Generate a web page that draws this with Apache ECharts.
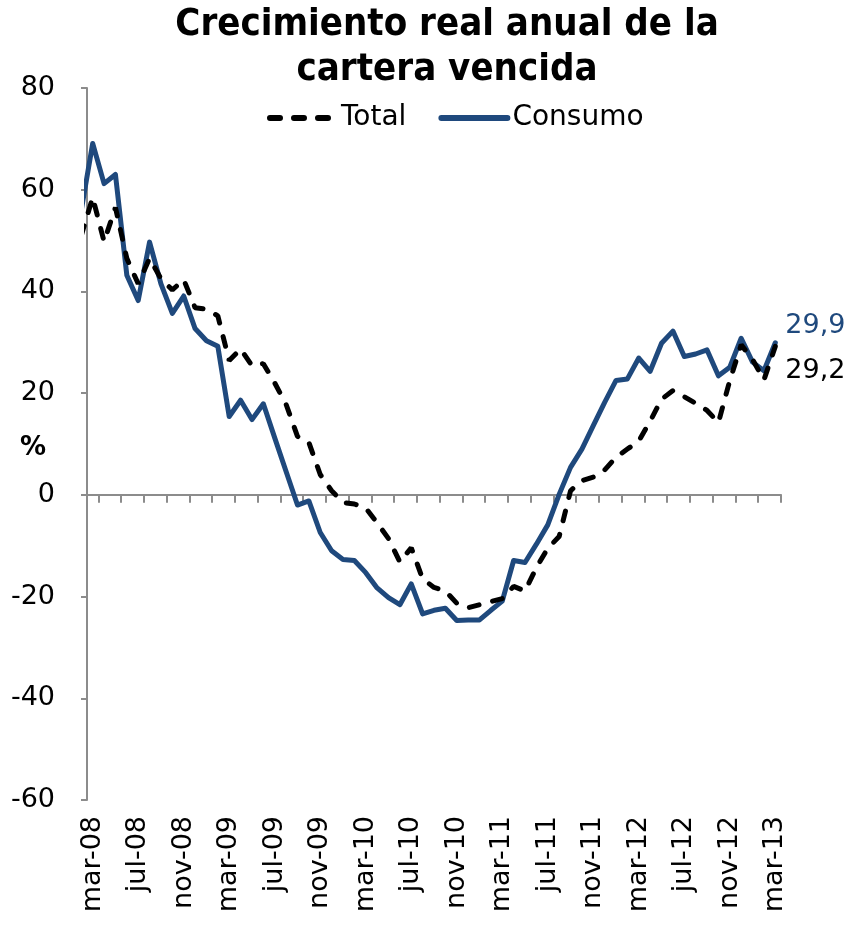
<!DOCTYPE html>
<html>
<head>
<meta charset="utf-8">
<script src="https://cdn.jsdelivr.net/npm/echarts@6/dist/echarts.min.js"></script>
<style>
  html, body { margin: 0; padding: 0; background: #fff; }
  #chart { width: 848px; height: 925px; }
</style>
</head>
<body>
<div id="chart"></div>
<script>
const months = ['ene', 'feb', 'mar', 'abr', 'may', 'jun', 'jul', 'ago', 'sep', 'oct', 'nov', 'dic']

// feb-08 sits left of the plot area, only its segment into mar-08 shows
const categories = []
for (let k = 1; k <= 62; k++) {
  const y = 8 + Math.floor(k / 12)
  categories.push(months[k % 12] + '-' + String(y).padStart(2, '0'))
}

const total = [51, 58.5, 49.8, 56.5, 46.5, 41.5, 46.5, 42.5, 40.3, 42.3, 36.8, 36.5, 35.2,
  26.4, 28.7, 25.4, 25.8, 22.0, 17.8, 11.5, 10.3, 4.0, 0.8, -1.5, -1.8, -2.6, -5.5, -8.6,
  -13.2, -10.4, -16.5, -18.2, -18.9, -21.3, -22.2, -21.6, -21.0, -20.4, -18.0, -18.9, -14.3,
  -10.5, -8.2, 0.8, 2.8, 3.5, 4.9, 7.4, 9.0, 10.6, 14.5, 18.8, 20.5, 19.3, 18.0, 16.6, 14.2,
  22.5, 29.5, 26.6, 22.6, 29.2]

const consumo = [56, 69.1, 61.2, 63.0, 43.2, 38.2, 49.7, 41.5, 35.7, 39.1, 32.7, 30.3, 29.2,
  15.4, 18.6, 14.8, 17.9, 11.2, 4.6, -2.0, -1.2, -7.4, -11.0, -12.7, -12.9, -15.3, -18.3,
  -20.2, -21.6, -17.5, -23.4, -22.7, -22.3, -24.7, -24.6, -24.6, -22.7, -20.9, -12.9, -13.3,
  -9.7, -5.9, 0.1, 5.4, 9.0, 13.6, 18.2, 22.5, 22.8, 26.9, 24.3, 29.8, 32.2, 27.2, 27.7,
  28.5, 23.4, 25.1, 30.8, 26.1, 24.4, 29.9]

const FONT = '"DejaVu Sans", Verdana, sans-serif'
const BLUE = '#1F497D'
const GREY = '#8c8c8c'

const fmt = v => String(v).replace('.', ',')

const chart = echarts.init(document.getElementById('chart'))

const option = {
  animation: false,
  textStyle: { fontFamily: FONT },
  graphic: [
    {
      type: 'text',
      x: 447,
      y: 3,
      scaleX: 0.9,
      style: {
        text: 'Crecimiento real anual de la\ncartera vencida',
        fill: '#000',
        fontFamily: FONT,
        fontSize: 38,
        fontWeight: 'bold',
        lineHeight: 45,
        align: 'center',
        verticalAlign: 'top'
      }
    },
    {
      type: 'text',
      x: 33,
      y: 448,
      style: {
        text: '%',
        fill: '#000',
        fontFamily: FONT,
        fontSize: 26,
        fontWeight: 'bold',
        align: 'center',
        verticalAlign: 'middle'
      }
    }
  ],
  legend: {
    left: 262,
    top: 99,
    itemWidth: 66,
    itemHeight: 8,
    itemGap: 32,
    itemStyle: { opacity: 0 },
    lineStyle: { width: 6 },
    textStyle: { fontSize: 28, color: '#000', fontFamily: FONT },
    data: ['Total', 'Consumo']
  },
  grid: {
    left: 87,
    right: 67,
    top: 88,
    bottom: 125
  },
  xAxis: [
    {
      type: 'category',
      data: categories,
      min: 1,
      boundaryGap: true,
      axisLine: { onZero: true, lineStyle: { color: GREY, width: 2 } },
      axisTick: {
        show: true,
        length: 8,
        interval: 1,
        lineStyle: { color: GREY, width: 2 }
      },
      axisLabel: { show: false }
    },
    {
      type: 'category',
      data: categories,
      min: 1,
      position: 'bottom',
      boundaryGap: true,
      axisLine: { show: false, onZero: false },
      axisTick: { show: false },
      axisLabel: {
        rotate: 90,
        margin: 16,
        fontSize: 27,
        color: '#000',
        fontFamily: FONT,
        interval: (index) => (index - 1) % 4 === 0
      }
    }
  ],
  yAxis: {
    type: 'value',
    min: -60,
    max: 80,
    interval: 20,
    splitLine: { show: false },
    axisLine: { show: true, lineStyle: { color: GREY, width: 2 } },
    axisTick: { show: true, length: 6, lineStyle: { color: GREY, width: 2 } },
    axisLabel: { fontSize: 27, color: '#000', margin: 32, fontFamily: FONT }
  },
  series: [
    {
      name: 'Total',
      type: 'line',
      z: 3,
      xAxisIndex: 0,
      symbol: 'none',
      data: total,
      itemStyle: { color: '#000' },
      lineStyle: { color: '#000', width: 5, type: [10, 14], cap: 'round' },
      endLabel: {
        show: true,
        formatter: p => fmt(p.value),
        color: '#000',
        fontSize: 27,
        fontFamily: FONT,
        distance: 10,
        offset: [0, 25]
      }
    },
    {
      name: 'Consumo',
      type: 'line',
      z: 2,
      xAxisIndex: 0,
      symbol: 'none',
      data: consumo,
      itemStyle: { color: BLUE },
      lineStyle: { color: BLUE, width: 5, cap: 'round', join: 'round' },
      endLabel: {
        show: true,
        formatter: p => fmt(p.value),
        color: BLUE,
        fontSize: 27,
        fontFamily: FONT,
        distance: 10,
        offset: [0, -17]
      }
    }
  ]
}

chart.setOption(option)
</script>
</body>
</html>
